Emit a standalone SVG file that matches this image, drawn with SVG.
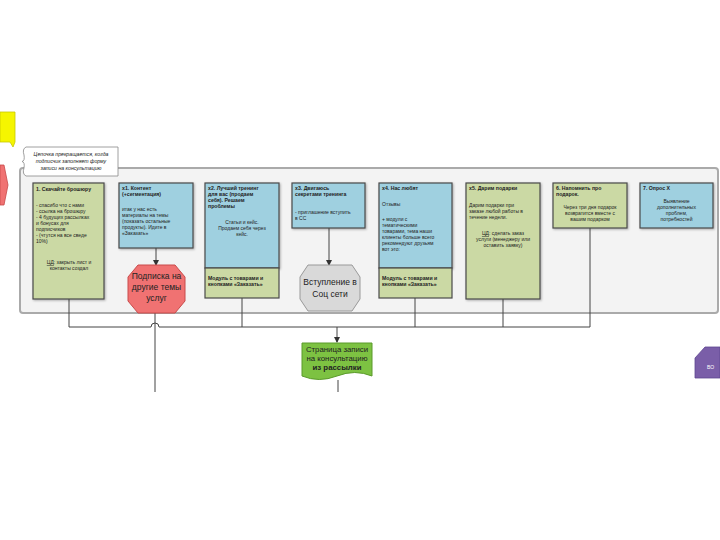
<svg xmlns="http://www.w3.org/2000/svg" width="720" height="540" viewBox="0 0 720 540">
<defs>
<marker id="arr" markerWidth="6" markerHeight="6" refX="5" refY="3" orient="auto" markerUnits="userSpaceOnUse">
<path d="M0,0 L6,3 L0,6 Z" fill="#333"/>
</marker>
<filter id="sh" x="-10%" y="-10%" width="130%" height="130%">
<feDropShadow dx="1" dy="1" stdDeviation="0.8" flood-color="#000" flood-opacity="0.3"/>
</filter>
</defs>
<style>
text{font-family:"Liberation Sans","DejaVu Sans",sans-serif;fill:#222}
.t{font-size:5.2px;font-weight:bold}
.b{font-size:5px}
.c{text-anchor:middle}
.g{fill:#cbd9a4;stroke:#4a4a4a;stroke-width:1.2}
.bl{fill:#9fd0e0;stroke:#4a4a4a;stroke-width:1.2}
.ln{fill:none;stroke:#444;stroke-width:1}
.big{font-size:8.5px;text-anchor:middle}
</style>
<rect width="720" height="540" fill="#fff"/>

<g id="yellow-note">
<path d="M0,112 L15,112 L15,142 L13,147 L10,142 L0,142 Z" fill="#f5f500" stroke="#c8c800" stroke-width="0.8"/>
</g>
<g id="red-left">
<path d="M0,165 L4,165 L8,185 L4,205 L0,205 Z" fill="#f07272" stroke="#c84a4a" stroke-width="0.8"/>
</g>

<g id="panel">
<rect x="20" y="168" width="698" height="145" rx="3" fill="#f3f3f3" stroke="#aaa" stroke-width="2"/>
</g>

<g id="callout">
<path d="M26,147 L118,147 L118,176 L26,176 Q22,174 24,168 Q25,162 22,161.5 Q25,161 24,155 Q22,149 26,147 Z" fill="#fff" stroke="#888" stroke-width="0.8"/>
<text class="c" font-style="italic" font-size="5.2" x="71" y="156">Цепочка прекращается, когда</text>
<text class="c" font-style="italic" font-size="5.2" x="71" y="163">подписчик заполняет форму</text>
<text class="c" font-style="italic" font-size="5.2" x="71" y="170">записи на консультацию</text>
</g>

<g id="connectors">
<path class="ln" d="M69,299 V327 H151 A4,4 0 0 1 159,327 H590 V228"/>
<path class="ln" d="M242,298 V327"/>
<path class="ln" d="M415,298 V327"/>
<path class="ln" d="M503,299 V327"/>
<path class="ln" d="M155,313 V392"/>
<path class="ln" d="M337,327 V342" marker-end="url(#arr)"/>
<path class="ln" d="M329,228 V265" marker-end="url(#arr)"/>
<path class="ln" d="M156,248 V265" marker-end="url(#arr)"/>
<path class="ln" d="M338,380 V392"/>
</g>

<g id="n1">
<rect class="g" x="33" y="183" width="71" height="116" filter="url(#sh)"/>
<text class="t" x="36" y="191">1. Скачайте брошюру</text>
<text class="b" x="36" y="207">- спасибо что с нами</text>
<text class="b" x="36" y="213">- ссылка на брошюру</text>
<text class="b" x="36" y="219">- 4 будущих рассылках</text>
<text class="b" x="36" y="225">и бонусах для</text>
<text class="b" x="36" y="231">подписчиков</text>
<text class="b" x="36" y="237">- (чтутся на все сведе</text>
<text class="b" x="36" y="243">10%)</text>
<text class="b c" x="69" y="264"><tspan text-decoration="underline">ЦД</tspan>: закрыть лист и</text>
<text class="b c" x="69" y="270">контакты создал</text>
</g>

<g id="x1">
<rect class="bl" x="119" y="183" width="74" height="65" filter="url(#sh)"/>
<text class="t" x="122" y="190">x1. Контент</text>
<text class="t" x="122" y="196">(+сегментация)</text>
<text class="b" x="122" y="211">итак у нас есть</text>
<text class="b" x="122" y="217">материалы на темы</text>
<text class="b" x="122" y="223">(показать остальные</text>
<text class="b" x="122" y="229">продукты). Идите в</text>
<text class="b" x="122" y="235">«Заказать»</text>
</g>

<g id="red-hex">
<path d="M138,265 L175,265 L185,277 L185,301 L175,313 L138,313 L128,301 L128,277 Z" fill="#f07272" stroke="#c84a4a" stroke-width="1"/>
<text class="big" x="156.5" y="279">Подписка на</text>
<text class="big" x="156.5" y="290">другие темы</text>
<text class="big" x="156.5" y="301">услуг</text>
</g>

<g id="x2">
<rect class="bl" x="205" y="183" width="74" height="85" filter="url(#sh)"/>
<rect class="g" x="205" y="268" width="74" height="30"/>
<text class="t" x="208" y="190">x2. Лучший тренинг</text>
<text class="t" x="208" y="196">для вас (продаем</text>
<text class="t" x="208" y="202">себя). Решаем</text>
<text class="t" x="208" y="208">проблемы</text>
<text class="b c" x="242" y="224">Статьи и кейс.</text>
<text class="b c" x="242" y="230">Продаем себя через</text>
<text class="b c" x="242" y="236">кейс.</text>
<text class="t" x="208" y="280">Модуль с товарами и</text>
<text class="t" x="208" y="286">кнопками «Заказать»</text>
</g>

<g id="x3">
<rect class="bl" x="292" y="183" width="73" height="45" filter="url(#sh)"/>
<text class="t" x="295" y="190">x3. Двигаюсь</text>
<text class="t" x="295" y="196">секретами тренинга</text>
<text class="b" x="295" y="214">- приглашение вступить</text>
<text class="b" x="295" y="220">в СС</text>
</g>

<g id="gray-hex">
<path d="M308,265 L352,265 L360,277 L360,299 L352,311 L308,311 L300,299 L300,277 Z" fill="#d9d9d9" stroke="#999" stroke-width="1"/>
<text class="big" x="330" y="285">Вступление в</text>
<text class="big" x="330" y="297">Соц сети</text>
</g>

<g id="x4">
<rect class="bl" x="379" y="183" width="73" height="85" filter="url(#sh)"/>
<rect class="g" x="379" y="268" width="73" height="30"/>
<text class="t" x="382" y="190">x4. Нас любят</text>
<text class="b" x="382" y="206">Отзывы</text>
<text class="b" x="382" y="221">+ модули с</text>
<text class="b" x="382" y="227">тематическими</text>
<text class="b" x="382" y="233">товарами, тема наши</text>
<text class="b" x="382" y="239">клиенты больше всего</text>
<text class="b" x="382" y="245">рекомендуют друзьям</text>
<text class="b" x="382" y="251">вот это:</text>
<text class="t" x="382" y="280">Модуль с товарами и</text>
<text class="t" x="382" y="286">кнопками «Заказать»</text>
</g>

<g id="x5">
<rect class="g" x="466" y="183" width="74" height="116" filter="url(#sh)"/>
<text class="t" x="469" y="190">x5. Дарим подарки</text>
<text class="b" x="469" y="207">Дарим подарки при</text>
<text class="b" x="469" y="213">заказе любой работы в</text>
<text class="b" x="469" y="219">течение недели.</text>
<text class="b c" x="503" y="235"><tspan text-decoration="underline">ЦД</tspan>: сделать заказ</text>
<text class="b c" x="503" y="241">услуги (менеджеру или</text>
<text class="b c" x="503" y="247">оставить заявку)</text>
</g>

<g id="n6">
<rect class="g" x="553" y="183" width="74" height="45" filter="url(#sh)"/>
<text class="t" x="556" y="190">6. Напомнить про</text>
<text class="t" x="556" y="196">подарок.</text>
<text class="b c" x="590" y="209">Через три дня подарок</text>
<text class="b c" x="590" y="215">возвратится вместе с</text>
<text class="b c" x="590" y="221">вашим подарком</text>
</g>

<g id="n7">
<rect class="bl" x="640" y="183" width="73" height="45" filter="url(#sh)"/>
<text class="t" x="643" y="190">7. Опрос Х</text>
<text class="b c" x="676.5" y="203">Выявление</text>
<text class="b c" x="676.5" y="209">дополнительных</text>
<text class="b c" x="676.5" y="215">проблем,</text>
<text class="b c" x="676.5" y="221">потребностей</text>
</g>

<g id="doc">
<path d="M302,343 L372,343 L372,376 Q355,369 337,376 Q319,383 302,376 Z" fill="#7dc242" stroke="#5a9a2a" stroke-width="1"/>
<text font-size="7.8" class="c" x="337" y="352">Страница записи</text>
<text font-size="7.8" class="c" x="337" y="361">на консультацию</text>
<text font-size="7.8" class="c" x="337" y="370" font-weight="bold">из рассылки</text>
</g>

<g id="purple">
<path d="M705,347 L720,347 L720,378 L695,378 L695,358 Z" fill="#7a5ea8" stroke="#5e4690" stroke-width="0.8"/>
<text x="707" y="369" font-size="5" style="fill:#fff">ВО</text>
</g>
</svg>
